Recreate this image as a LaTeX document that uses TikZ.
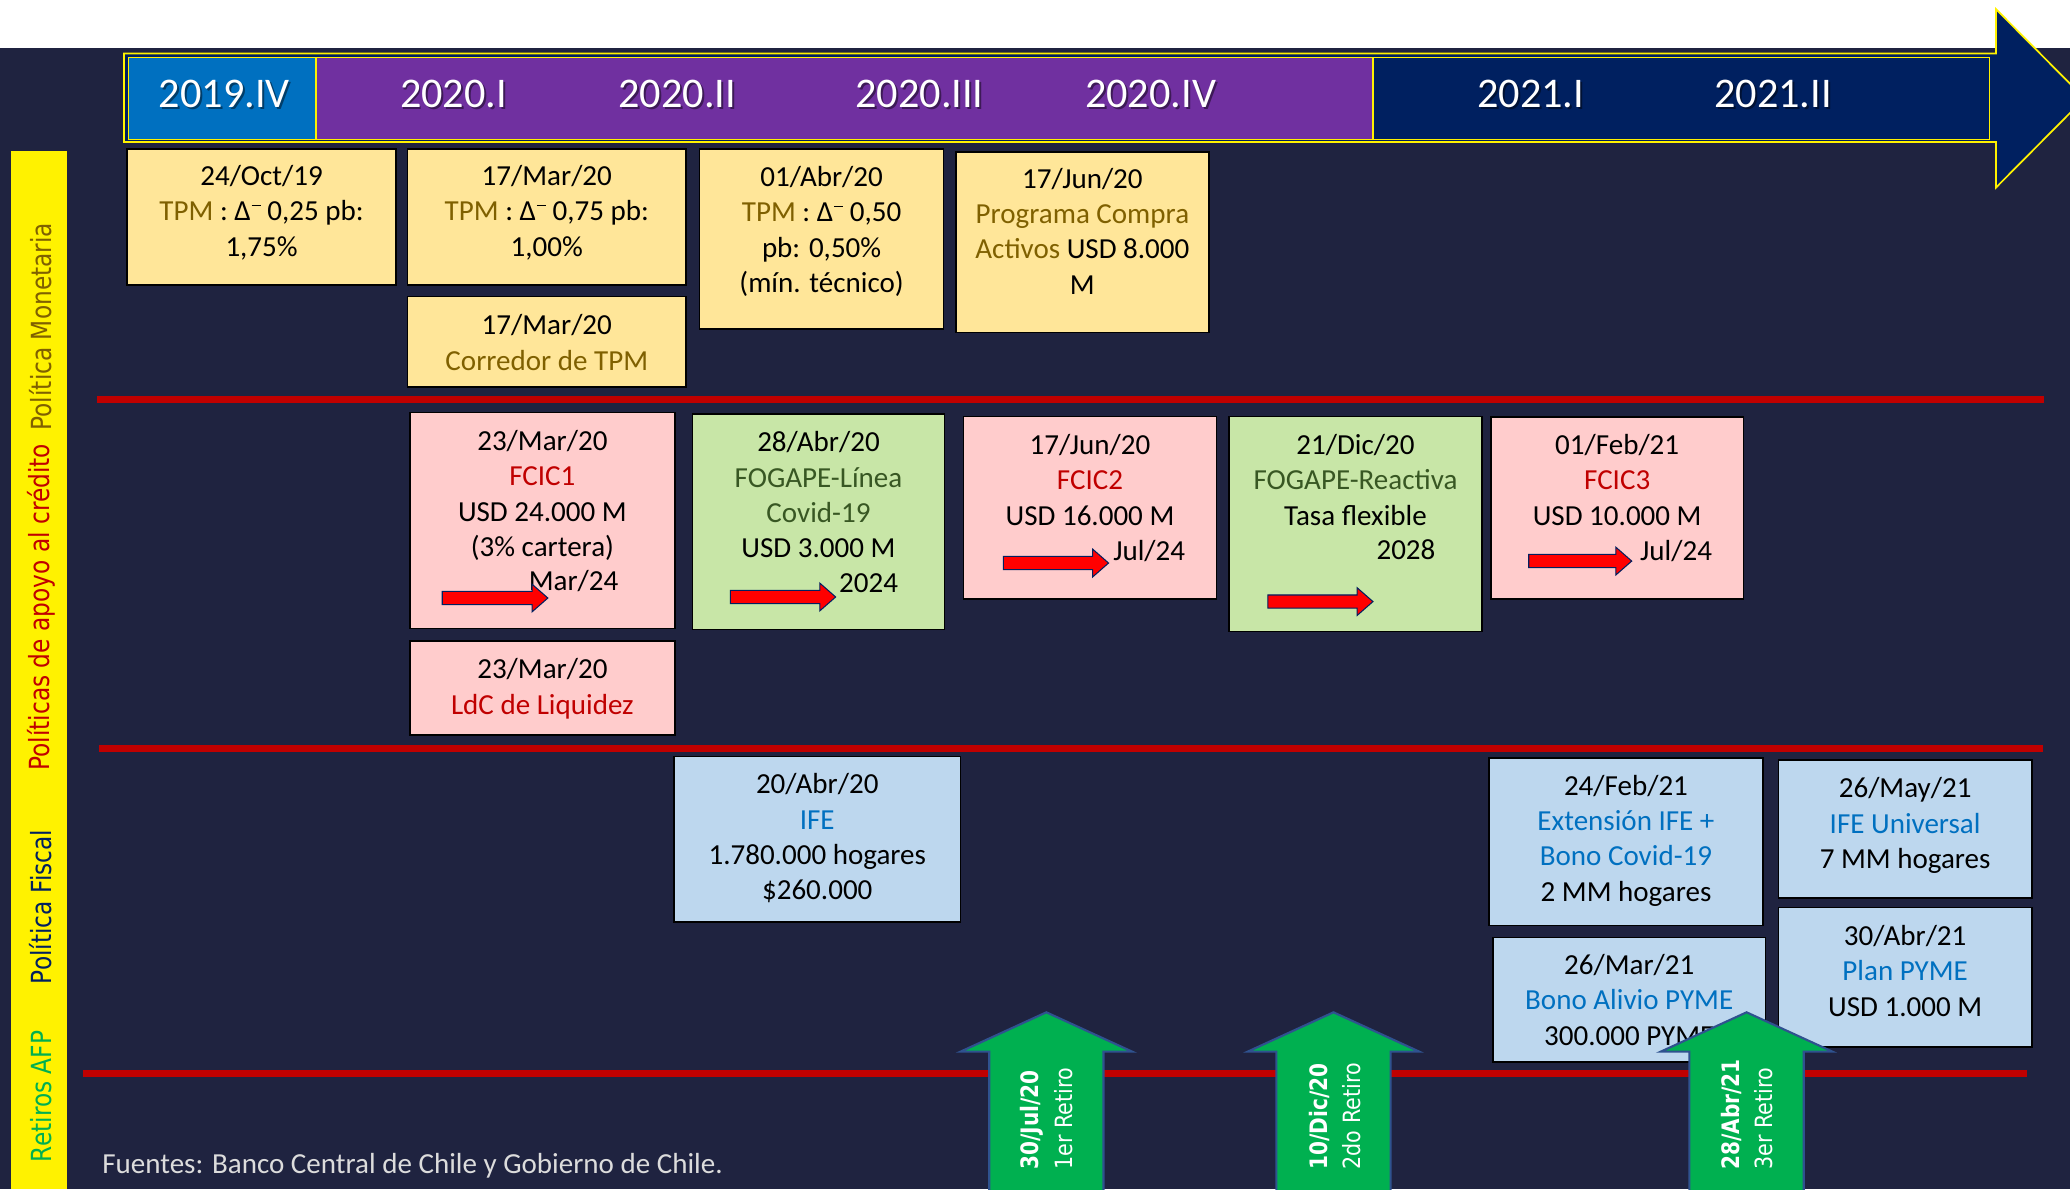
\documentclass[tikz,border=0pt]{standalone}
\usepackage{fontspec}
\setmainfont{Carlito}
\newfontfamily\sidefont{DejaVu Sans}

\definecolor{bgnavy}{HTML}{1F2340}
\definecolor{boxyel}{HTML}{FFE699}
\definecolor{boxpink}{HTML}{FFCCCC}
\definecolor{boxgreen}{HTML}{C8E6A7}
\definecolor{boxblue}{HTML}{BDD7EE}
\definecolor{olivet}{HTML}{7F6000}
\definecolor{redt}{HTML}{C00000}
\definecolor{dgreent}{HTML}{385723}
\definecolor{bluet}{HTML}{0070C0}
\definecolor{hdrblue}{HTML}{0070C0}
\definecolor{hdrpurple}{HTML}{7030A0}
\definecolor{hdrnavy}{HTML}{002060}
\definecolor{agreen}{HTML}{00B050}
\definecolor{aedge}{HTML}{2F528F}
\definecolor{sepred}{HTML}{C00000}
\definecolor{footgray}{HTML}{DCDCDC}

\newcommand\dneg{Δ\kern0.6pt\raisebox{0.5em}{\rule{0.32em}{0.05em}}}
\newcommand\olv[1]{\textcolor{olivet}{#1}}
\newcommand\rdt[1]{\textcolor{redt}{#1}}
\newcommand\dgt[1]{\textcolor{dgreent}{#1}}
\newcommand\blt[1]{\textcolor{bluet}{#1}}
% box: name, style, cx, cy, w, h
\newcommand\evbox[6]{\node[#2, minimum width=#5pt, minimum height=#6pt] (#1) at (#3,#4) {};}
% text block: name, x, first baseline, lines
\newcommand\evtext[4]{\node[txt] (#1) at (#2,#3) {\begin{tabular}[t]{@{}c@{}}#4\end{tabular}};}
% small red arrow: start x, tip x, centre y
\newcommand\redarr[3]{\draw[rarrow] (#1,#3-5) -- (#2-12,#3-5) -- (#2-12,#3-10.5) -- (#2,#3) -- (#2-12,#3+10.5) -- (#2-12,#3+5) -- (#1,#3+5) -- cycle;}
% green block arrow: centre x
\newcommand\grarr[1]{\draw[garrow] (#1-43.3,915) -- (#1-43.3,796.6) -- (#1-65,796.6) -- (#1,766.8) -- (#1+65,796.6) -- (#1+43.3,796.6) -- (#1+43.3,915) -- cycle;}

\tikzset{
  evb/.style={draw=black, line width=1.2pt, inner sep=0pt, outer sep=0pt, rectangle},
  yelb/.style={evb, fill=boxyel},
  pinkb/.style={evb, fill=boxpink},
  greenb/.style={evb, fill=boxgreen},
  blueb/.style={evb, fill=boxblue},
  txt/.style={anchor=base, inner sep=0pt, text=black, font=\fontsize{22}{26.8}\selectfont},
  hdr/.style={anchor=base, inner sep=0pt, text=white, font=\fontsize{32}{38}\selectfont},
  hdrsh/.style={anchor=base, inner sep=0pt, text=black, opacity=0.45, font=\fontsize{32}{38}\selectfont},
  side/.style={rotate=90, xscale=0.84, inner sep=0pt, font=\sidefont\fontsize{21}{24}\selectfont},
  retb/.style={rotate=90, xscale=0.835, anchor=west, inner sep=0pt, text=white, font=\sidefont\bfseries\fontsize{18.2}{21}\selectfont},
  retn/.style={rotate=90, xscale=0.87, anchor=west, inner sep=0pt, text=white, font=\sidefont\fontsize{18}{21}\selectfont},
  cell/.style={draw=yellow, line width=1pt},
  sepline/.style={draw=sepred, line width=5.6pt},
  rarrow/.style={fill=red, draw=hdrnavy, line width=0.8pt},
  garrow/.style={fill=agreen, draw=aedge, line width=1.6pt, line join=miter},
}

\begin{document}
\begin{tikzpicture}[x=1pt, y=-1pt]
\useasboundingbox (0,0) rectangle (1568,901);
\clip (0,0) rectangle (1568,901);
% background
\fill[white] (0,0) rectangle (1568,901);
\fill[bgnavy] (0,36) rectangle (1568,901);

% timeline banner arrow
\draw[fill=hdrnavy, draw=yellow, line width=1.3pt, line join=miter]
  (94,40.6) -- (1512,40.6) -- (1512,7) -- (1579,74.5) -- (1512,142) -- (1512,107.6) -- (94,107.6) -- cycle;
\draw[cell, fill=hdrblue] (97.2,43.4) rectangle (239.4,105.5);
\draw[cell, fill=hdrpurple] (239.4,43.4) rectangle (1040,105.5);
\draw[cell, fill=hdrnavy] (1040,43.4) rectangle (1507,105.5);

\foreach \n/\x/\lab in {1/170/2019.IV, 2/343.5/2020.I, 3/513/2020.II, 4/696.5/2020.III, 5/871.5/2020.IV, 6/1159.5/2021.I, 7/1343/2021.II}{
  \node[hdrsh] (hs\n) at (\x+1.5,81.5+1.5) {\lab};
  \node[hdr] (h\n) at (\x,81.5) {\lab};
}

% left category strip
\fill[yellow] (8.4,114.4) rectangle (50.6,901);
\node[side, text=olivet] (sMon) at (31,247.5) {Política Monetaria};
\node[side, text=redt] (sCred) at (31,460) {Políticas de apoyo al crédito};
\node[side, text=hdrnavy] (sFis) at (31,687) {Política Fiscal};
\node[side, text=agreen] (sAfp) at (31,830.5) {Retiros AFP};

% separator lines
\draw[sepline] (73.7,302.6) -- (1548,302.6);
\draw[sepline] (75,567.2) -- (1547.5,567.2);
\draw[sepline] (62.8,813) -- (1535.5,813);

% Politica monetaria boxes
\evbox{b1}{yelb}{198.15}{164.5}{203.7}{103}
\evbox{b2}{yelb}{414.2}{164.5}{211}{103}
\evbox{b3}{yelb}{414.2}{258.9}{211}{68.4}
\evbox{b4}{yelb}{622.35}{181.2}{184.7}{136.4}
\evbox{b5}{yelb}{819.9}{183.5}{191.8}{137}
\evtext{tb1}{198.15}{140.5}{24/Oct/19\\\olv{TPM} : \dneg{} 0,25 pb:\\1,75\%}
\evtext{tb2}{414.2}{140.5}{17/Mar/20\\\olv{TPM} : \dneg{} 0,75 pb:\\1,00\%}
\evtext{tb3}{414.2}{253.5}{17/Mar/20\\\olv{Corredor de TPM}}
\evtext{tb4}{622.35}{141.2}{01/Abr/20\\\olv{TPM} : \dneg{} 0,50\\pb: 0,50\%\\(mín. técnico)}
\evtext{tb5}{819.9}{142.5}{17/Jun/20\\\olv{Programa Compra}\\\olv{Activos} USD 8.000\\M}

% Politicas de apoyo al credito boxes
\evbox{c1}{pinkb}{410.85}{394.3}{200.9}{163.4}
\evbox{c2}{greenb}{620}{395.25}{190.8}{162.9}
\evbox{c3}{pinkb}{825.65}{384.65}{191.9}{138.1}
\evbox{c4}{greenb}{1026.75}{397.05}{191.3}{162.9}
\evbox{c5}{pinkb}{1225}{384.85}{191.2}{137.7}
\evbox{c6}{pinkb}{410.85}{521.1}{200.9}{71.2}
\evtext{tc1}{410.85}{341.2}{23/Mar/20\\\rdt{FCIC1}\\USD 24.000 M\\(3\% cartera)}
\evtext{tc1b}{434.5}{447.5}{Mar/24}
\evtext{tc2}{620}{342.2}{28/Abr/20\\\dgt{FOGAPE-Línea}\\\dgt{Covid-19}\\USD 3.000 M}
\evtext{tc2b}{658}{448.5}{2024}
\evtext{tc3}{825.65}{344.2}{17/Jun/20\\\rdt{FCIC2}\\USD 16.000 M}
\evtext{tc3b}{870.5}{424.8}{Jul/24}
\evtext{tc4}{1026.75}{344.2}{21/Dic/20\\\dgt{FOGAPE-Reactiva}\\Tasa flexible}
\evtext{tc4b}{1065}{423.8}{2028}
\evtext{tc5}{1225}{344.2}{01/Feb/21\\\rdt{FCIC3}\\USD 10.000 M}
\evtext{tc5b}{1269.6}{424.8}{Jul/24}
\evtext{tc6}{410.85}{514.2}{23/Mar/20\\\rdt{LdC de Liquidez}}
\redarr{335}{415}{453}
\redarr{553.3}{633}{452.2}
\redarr{760}{839.7}{426.5}
\redarr{960.4}{1040}{455.7}
\redarr{1158}{1236}{425}

% Politica fiscal boxes
\evbox{f1}{blueb}{619.05}{635.8}{216.9}{125.6}
\evbox{f2}{blueb}{1231.65}{637.5}{207.3}{127}
\evbox{f3}{blueb}{1443.1}{628.05}{191.8}{104.7}
\evbox{f4}{blueb}{1234.1}{757.3}{206.6}{94.6}
\evbox{f5}{blueb}{1443.1}{740.4}{191.8}{105.8}
\evtext{tf1}{619.05}{601.2}{20/Abr/20\\\blt{IFE}\\1.780.000 hogares\\\$260.000}
\evtext{tf2}{1231.65}{602.2}{24/Feb/21\\\blt{Extensión IFE +}\\\blt{Bono Covid-19}\\2 MM hogares}
\evtext{tf3}{1443.1}{604.2}{26/May/21\\\blt{IFE Universal}\\7 MM hogares}
\evtext{tf4}{1234.1}{738.2}{26/Mar/21\\\blt{Bono Alivio PYME}\\300.000 PYME}
\evtext{tf5}{1443.1}{716.2}{30/Abr/21\\\blt{Plan PYME}\\USD 1.000 M}

% Retiros AFP arrows
\grarr{792.6}
\grarr{1010.1}
\grarr{1323}
\node[retb] (r1a) at (781.7,886) {30/Jul/20};
\node[retn] (r1b) at (806,886) {1er Retiro};
\node[retb] (r2a) at (999.3,886) {10/Dic/20};
\node[retn] (r2b) at (1023.5,886) {2do Retiro};
\node[retb] (r3a) at (1311.7,886) {28/Abr/21};
\node[retn] (r3b) at (1335.6,886) {3er Retiro};

% footer
\node[anchor=base west, inner sep=0pt, text=footgray, font=\fontsize{22}{26.8}\selectfont] (foot) at (77.3,888.8) {Fuentes: Banco Central de Chile y Gobierno de Chile.};
\end{tikzpicture}
\end{document}
